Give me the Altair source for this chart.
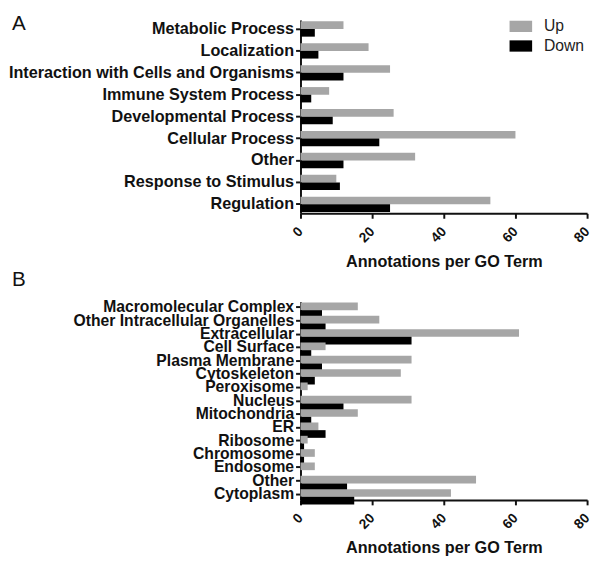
import altair as alt
import pandas as pd

# ---- data ----
a_terms = ["Metabolic Process", "Localization", "Interaction with Cells and Organisms",
           "Immune System Process", "Developmental Process", "Cellular Process",
           "Other", "Response to Stimulus", "Regulation"]
a_up = [12, 19, 25, 8, 26, 60, 32, 10, 53]
a_down = [4, 5, 12, 3, 9, 22, 12, 11, 25]

b_terms = ["Macromolecular Complex", "Other Intracellular Organelles", "Extracellular",
           "Cell Surface", "Plasma Membrane", "Cytoskeleton", "Peroxisome", "Nucleus",
           "Mitochondria", "ER", "Ribosome", "Chromosome", "Endosome", "Other", "Cytoplasm"]
b_up = [16, 22, 61, 7, 31, 28, 2, 31, 16, 5, 2, 4, 4, 49, 42]
b_down = [6, 7, 31, 3, 6, 4, 0, 12, 3, 7, 1, 1, 0, 13, 15]

series = ["Up", "Down"]
series_colors = ["#a6a6a6", "#000000"]
x_ticks = [0, 20, 40, 60, 80]
x_title = "Annotations per GO Term"

FONT = "Liberation Sans"


def long_table(terms, up, down):
    rows = []
    for t, u, d in zip(terms, up, down):
        rows.append({"term": t, "series": "Up", "value": u})
        rows.append({"term": t, "series": "Down", "value": d})
    return pd.DataFrame(rows)


def panel(terms, up, down, letter, letter_y, height, label_size,
          pad_inner, pad_outer, show_legend):
    df = long_table(terms, up, down)
    y = alt.Y("term:N", sort=terms,
              scale=alt.Scale(paddingInner=pad_inner, paddingOuter=pad_outer),
              axis=alt.Axis(title=None, labelFont=FONT, labelFontSize=label_size,
                            labelFontWeight="bold", labelColor="#111", labelLimit=400,
                            domainColor="#111", domainWidth=2, tickColor="#111",
                            tickWidth=2, tickSize=5, labelPadding=2))
    x = alt.X("value:Q", scale=alt.Scale(domain=[0, 80], nice=False),
              axis=alt.Axis(values=x_ticks, title=x_title, grid=False,
                            labelAngle=315, labelAlign="right", labelBaseline="middle",
                            labelFont=FONT, labelFontSize=14, labelFontWeight="bold",
                            labelColor="#111", labelPadding=11,
                            domainColor="#111", domainWidth=2, tickColor="#111",
                            tickWidth=2, tickSize=5,
                            titleFont=FONT, titleFontSize=16.5, titleFontWeight="bold",
                            titleColor="#111", titlePadding=9))
    if show_legend:
        legend = alt.Legend(title=None, orient="none", legendX=213, legendY=-5,
                            symbolType="M-1,-0.5H1V0.5H-1Z", symbolSize=529,
                            symbolStrokeWidth=0, labelFont=FONT, labelFontSize=16,
                            labelColor="#222", labelOffset=12, rowPadding=-2)
    else:
        legend = None
    color = alt.Color("series:N", scale=alt.Scale(domain=series, range=series_colors),
                      legend=legend)
    bars = alt.Chart(df).mark_bar().encode(
        x=x, y=y,
        yOffset=alt.YOffset("series:N", sort=series,
                            scale=alt.Scale(domain=series, paddingInner=0)),
        color=color,
    )
    label = alt.Chart(pd.DataFrame({"t": [letter]})).mark_text(
        font=FONT, fontSize=21, fontWeight="normal", color="#111",
        align="left", baseline="top"
    ).encode(text="t:N", x=alt.value(-294), y=alt.value(letter_y))
    return alt.layer(bars, label).properties(width=292, height=height)


pa = panel(a_terms, a_up, a_down, "A", -7, 197, 16.5, 0.3, 0.06, True)
pb = panel(b_terms, b_up, b_down, "B", -33, 202, 16, 0.25, 0.06, False)

chart = alt.vconcat(pa, pb, spacing=-1).resolve_scale(color="independent") \
    .resolve_legend(color="independent") \
    .properties(padding={"left": 0, "top": 0, "right": 0, "bottom": 0}) \
    .configure_view(stroke=None)

chart.save("out.html", embed_options={"renderer": "svg", "actions": False})
